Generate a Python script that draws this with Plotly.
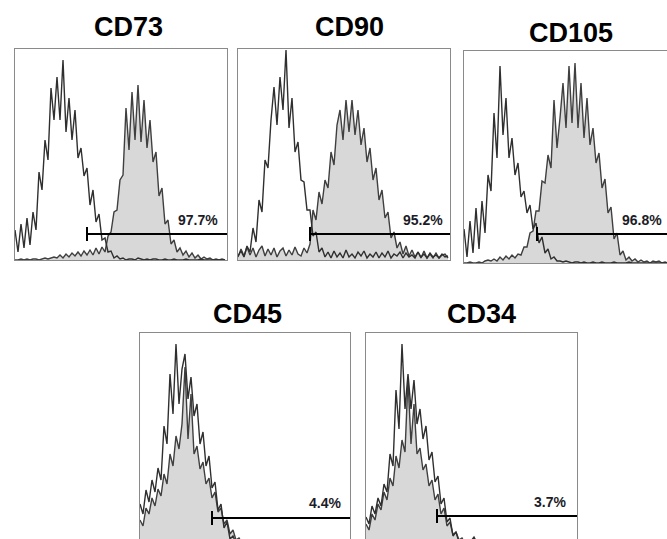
import plotly.graph_objects as go

W, H = 667, 539
BIN = 3  # channel spacing (x units)

titles = ["CD73", "CD90", "CD105", "CD45", "CD34"]
percent_labels = ["97.7%", "95.2%", "96.8%", "4.4%", "3.7%"]

# ---- histogram counts (control = unstained isotype, stained = antibody) ----
cd73_control = [30, 8, 36, 12, 42, 15, 48, 30, 88, 70, 120, 100, 172, 140, 183, 140, 200, 128, 162, 120,
                150, 102, 112, 84, 92, 55, 70, 38, 46, 20, 22, 8, 9, 2, 4,
                1, 2, 0, 1, 1, 0, 2, 1, 0, 1, 0, 1, 1, 0, 0, 1, 0, 0, 1, 0, 0, 0, 1, 0, 0, 0, 0, 1, 0, 0, 0, 0, 0, 0, 0, 0]
cd73_stained = [0, 0, 1, 0, 1, 0, 1, 1, 0, 1, 2, 1, 2, 3,
                2, 5, 2, 6, 3, 7, 4, 8, 4, 9, 5, 10, 5, 12, 6, 13, 8,
                24, 28, 48, 50, 80, 85, 152, 110, 168, 120, 175, 118, 160, 112, 140, 98, 108, 64, 72,
                36, 40, 16, 20, 8, 12, 5, 9, 3, 7, 2, 5, 1, 3, 1, 2, 0, 1, 0, 1, 0]

cd90_control = [4, 9, 3, 14, 8, 32, 18, 60, 48, 100, 92, 140, 173, 135, 183, 150, 210, 132, 162, 108,
                118, 80, 78, 50, 50, 24, 28, 8, 12,
                3, 8, 2, 9, 3, 7, 2, 10, 3, 6, 2, 8, 4, 9, 2, 6, 3, 8, 2, 7, 3, 9, 2, 6, 4, 8, 2, 7, 3, 5,
                2, 8, 3, 6, 2, 7, 3, 5, 2, 6, 3, 4]
cd90_stained = [3, 11, 4, 13, 5, 12, 3, 10, 14, 4, 11, 5, 12, 3, 9, 12, 4, 10, 5, 13, 6, 4, 12, 7, 16,
                50, 40, 68, 56, 80, 72, 108, 95, 135, 150, 120, 160, 128, 160, 125, 150, 115, 132, 98,
                112, 80, 92, 60, 70, 42, 48, 22, 28, 12, 18, 6, 14, 4,
                10, 3, 8, 2, 9, 2, 6, 2, 7, 2, 5, 6, 2]

cd105_control = [34, 6, 42, 10, 55, 14, 62, 30, 88, 72, 150, 105, 197, 128, 165, 105, 125, 88, 100, 66,
                 72, 50, 58, 34, 40, 20, 26, 10, 14, 4, 6, 2,
                 2, 1, 2, 1, 0, 1, 1, 0, 1, 0, 0, 1, 0, 0, 1, 0, 0, 0, 1, 0, 0, 0, 0, 1, 0, 0, 0, 0, 0,
                 0, 0, 0, 0, 0, 0, 0, 0, 0, 0]
cd105_stained = [0, 0, 1, 0, 0, 1, 0, 2, 3, 2, 4, 2, 6, 3, 7, 4, 8, 5, 9,
                 8, 16, 16, 30, 32, 52, 52, 82, 80, 108, 95, 163, 115, 145, 180, 135, 197, 140, 200, 135,
                 180, 125, 165, 118, 135, 100, 110, 75, 84, 50, 56, 24, 30, 8, 12, 3, 6,
                 2, 4, 1, 3, 1, 2, 0, 2, 1, 2, 0, 1, 0, 1, 1]

cd45_control = [40, 30, 54, 42, 64, 52, 76, 64, 118, 100, 170, 130, 200, 140, 175, 190, 145, 167, 128, 140,
                100, 112, 78, 88, 56, 62, 34, 40, 16, 22, 5, 8, 1,
                0, 0, 0, 0, 0, 0, 0, 0, 0, 0, 0, 0, 0, 0, 0, 0, 0, 0, 0, 0, 0, 0, 0, 0, 0, 0, 0, 0, 0, 0,
                0, 0, 0, 0, 0, 0, 0, 0]
cd45_stained = [24, 18, 36, 30, 46, 38, 55, 48, 70, 60, 90, 78, 108, 95, 120, 177, 105, 150, 90, 98,
                75, 82, 60, 66, 46, 52, 32, 36, 20, 24, 10, 14, 4, 6, 1,
                1, 0, 0, 1, 0, 0, 0, 0, 0, 0, 0, 0, 0, 0, 0, 0, 0, 0, 0, 0, 0, 0, 0, 0, 0, 0, 0, 0, 0, 0,
                0, 0, 0, 0, 0, 0]

cd34_control = [27, 20, 38, 30, 46, 38, 60, 52, 90, 78, 154, 115, 200, 135, 170, 135, 164, 120, 135, 105,
                118, 84, 92, 62, 68, 40, 46, 22, 26, 8, 12, 2, 4, 0, 1, 3, 7, 1,
                0, 0, 0, 0, 0, 0, 0, 0, 0, 0, 0, 0, 0, 0, 0, 0, 0, 0, 0, 0, 0, 0, 0, 0, 0, 0, 0, 0, 0, 0,
                0, 0, 0]
cd34_stained = [20, 14, 30, 24, 40, 34, 52, 44, 66, 58, 88, 76, 104, 92, 165, 100, 140, 90, 96, 74,
                80, 58, 64, 44, 50, 30, 36, 18, 22, 9, 12, 4, 6, 1, 2, 0,
                0, 0, 0, 0, 0, 0, 0, 0, 0, 0, 0, 0, 0, 0, 0, 0, 0, 0, 0, 0, 0, 0, 0, 0, 0, 0, 0, 0, 0, 0,
                0, 0, 0, 0, 0]

controls = [cd73_control, cd90_control, cd105_control, cd45_control, cd34_control]
stained = [cd73_stained, cd90_stained, cd105_stained, cd45_stained, cd34_stained]

# gate: start channel and marker level (counts)
gate_start = [72, 72, 73, 72, 71]
gate_level = [26, 26, 29, 26, 28]
label_x = [205, 207, 200, 203, 202]
label_y = [40, 40, 43, 41, 42]
label_anchor = ["right", "right", "right", "right", "right"]

# ---- layout geometry (pixels) ----
panels = [  # left, right, top, bottom
    (15, 227, 49, 260),
    (238, 450, 49, 260),
    (464, 667, 51, 263),
    (140, 350, 333, 539),
    (366, 577, 333, 539),
]
xranges = [[0, 212], [0, 212], [0, 203], [0, 210], [0, 211]]
yranges = [[0, 211], [0, 211], [0, 212], [5, 211], [5, 211]]
title_pos = [(128, 27), (350, 27), (571, 33), (247, 314), (481, 314)]

FONT = "Liberation Sans, Arial, sans-serif"
fig = go.Figure()
annotations = []

for k in range(5):
    xa = "x" if k == 0 else f"x{k+1}"
    ya = "y" if k == 0 else f"y{k+1}"
    xs_c = [BIN * i for i in range(len(controls[k]))]
    xs_s = [BIN * i for i in range(len(stained[k]))]
    fig.add_trace(go.Scatter(x=xs_s, y=stained[k], mode="lines", fill="tozeroy",
                             fillcolor="#d8d8d8", line=dict(color="#3f3f3f", width=1.4),
                             xaxis=xa, yaxis=ya, showlegend=False, hoverinfo="skip"))
    fig.add_trace(go.Scatter(x=xs_c, y=controls[k], mode="lines",
                             line=dict(color="#2f2f2f", width=1.4),
                             xaxis=xa, yaxis=ya, showlegend=False, hoverinfo="skip"))
    g0, lv, xe = gate_start[k], gate_level[k], xranges[k][1] + 2
    fig.add_trace(go.Scatter(x=[g0, xe, None, g0, g0], y=[lv, lv, None, lv - 7, lv + 7],
                             mode="lines", line=dict(color="#000000", width=2),
                             xaxis=xa, yaxis=ya, showlegend=False, hoverinfo="skip", cliponaxis=False))
    annotations.append(dict(x=label_x[k], y=label_y[k], xref=xa, yref=ya, text=f"<b>{percent_labels[k]}</b>",
                            showarrow=False, xanchor=label_anchor[k], yanchor="middle",
                            font=dict(family=FONT, size=14, color="#1c1c28")))
    tx, ty = title_pos[k]
    annotations.append(dict(x=tx / W, y=1 - ty / H, xref="paper", yref="paper", text=f"<b>{titles[k]}</b>",
                            showarrow=False, xanchor="center", yanchor="middle",
                            font=dict(family=FONT, size=27, color="#000000")))

    l, r, t, b = panels[k]
    xdom = [l / W, r / W]
    ydom = [1 - b / H, 1 - t / H]
    axis_common = dict(showgrid=False, zeroline=False, showticklabels=False, ticks="")
    xkey = "xaxis" if k == 0 else f"xaxis{k+1}"
    ykey = "yaxis" if k == 0 else f"yaxis{k+1}"
    if k < 2:
        xcfg = dict(showline=True, mirror=True, linecolor="#8a8a8a", linewidth=1)
        ycfg = dict(showline=True, mirror=True, linecolor="#8a8a8a", linewidth=1)
    elif k == 2:
        xcfg = dict(showline=True, mirror=True, linecolor="#8a8a8a", linewidth=1)
        ycfg = dict(showline=True, mirror=False, linecolor="#8a8a8a", linewidth=1)
    else:
        xcfg = dict(showline=True, mirror=False, side="top", linecolor="#8a8a8a", linewidth=1)
        ycfg = dict(showline=True, mirror=True, linecolor="#8a8a8a", linewidth=1)
    fig.update_layout({
        xkey: dict(domain=xdom, range=xranges[k], anchor=ya, fixedrange=True, **axis_common, **xcfg),
        ykey: dict(domain=ydom, range=yranges[k], anchor=xa, fixedrange=True, **axis_common, **ycfg),
    })

fig.update_layout(width=W, height=H, margin=dict(l=0, r=0, t=0, b=0),
                  paper_bgcolor="white", plot_bgcolor="white", annotations=annotations,
                  font=dict(family=FONT))
fig.write_html("out.html", config={"displayModeBar": False},
               post_script="document.body.style.margin='0';document.body.style.overflow='hidden';")
